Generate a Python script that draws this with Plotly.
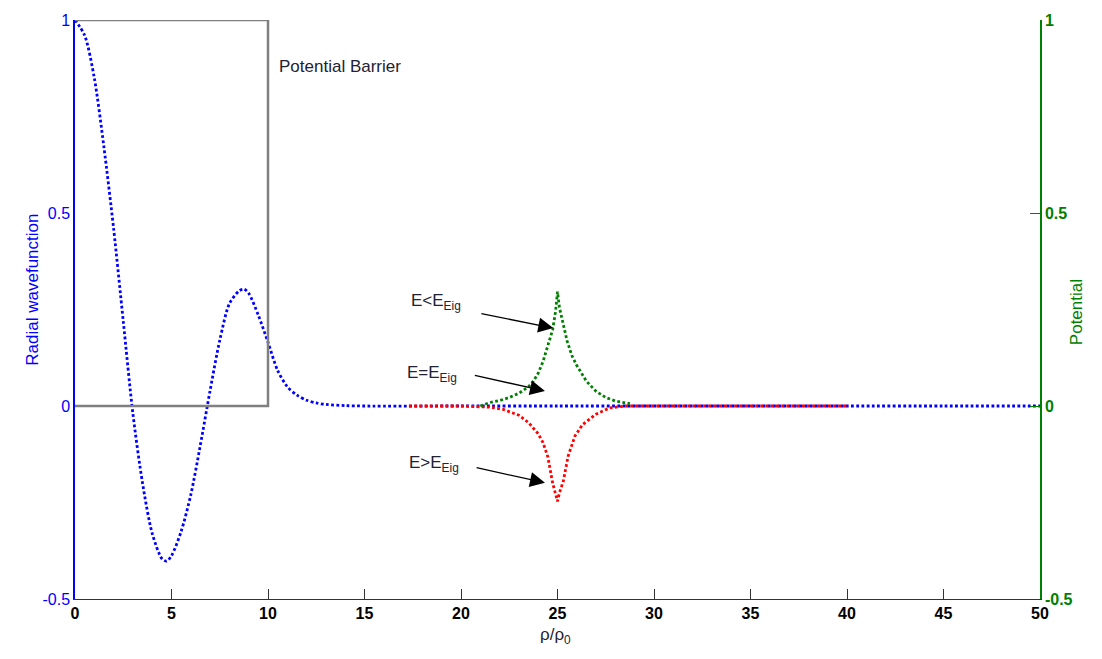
import plotly.graph_objects as go

# ---- data ----
wave_x = [0, 0.5, 1, 1.5, 2, 2.5, 3, 3.5, 4, 4.5, 4.75, 5, 5.5, 6, 6.5, 7, 7.5, 8,
          8.5, 8.75, 9, 9.5, 10, 10.5, 11, 11.5, 12, 12.5, 13, 14, 15, 20, 25, 30,
          35, 40, 45, 50]
wave_y = [1.0, 0.96, 0.85, 0.67, 0.46, 0.22, -0.02, -0.20, -0.33, -0.395, -0.402,
          -0.388, -0.325, -0.23, -0.10, 0.04, 0.17, 0.265, 0.298, 0.303, 0.292,
          0.235, 0.165, 0.092, 0.05, 0.028, 0.015, 0.008, 0.004, 0.001, 0, 0, 0, 0,
          0, 0, 0, 0]

below_x = [21.0, 21.5, 22.0, 22.5, 23.0, 23.5, 23.75, 24.0, 24.25, 24.5, 24.75, 24.9,
           25.0, 25.1, 25.25, 25.5, 25.75, 26.0, 26.5, 27.0, 27.5, 28.0, 28.75]
below_y = [0.0, 0.009, 0.014, 0.022, 0.033, 0.05, 0.064, 0.085, 0.115, 0.155, 0.198,
           0.245, 0.296, 0.255, 0.22, 0.168, 0.13, 0.105, 0.064, 0.038, 0.022, 0.013,
           0.006]

above_x = [17.3, 20, 21.5, 22.2, 23.0, 23.5, 24.0, 24.25, 24.5, 24.75, 24.9, 25.0,
           25.1, 25.3, 25.55, 25.9, 26.3, 27.0, 27.7, 28.5, 32, 36, 40]
above_y = [0, 0, -0.003, -0.009, -0.024, -0.043, -0.072, -0.095, -0.132, -0.2, -0.228,
           -0.247, -0.225, -0.195, -0.13, -0.078, -0.048, -0.021, -0.005, 0, 0, 0, 0]

barrier_x = [0, 10, 10, 0]
barrier_y = [0, 0, 1, 1]

x_ticks = [0, 5, 10, 15, 20, 25, 30, 35, 40, 45, 50]
y_ticks = [-0.5, 0, 0.5, 1]
y_ticktext = ["-0.5", "0", "0.5", "1"]

FONT = "Liberation Sans, Arial, sans-serif"
BLUE = "#0000ff"
GREEN = "#008000"
RED = "#ff0000"
DOT = "2.8px,2.4px"
LW = 2.8

fig = go.Figure()
fig.add_trace(go.Scatter(x=barrier_x, y=barrier_y, mode="lines", yaxis="y2",
                         line=dict(color="#808080", width=2.5), hoverinfo="skip"))
fig.add_trace(go.Scatter(x=above_x, y=above_y, mode="lines", yaxis="y2",
                         line=dict(color=RED, width=LW, dash=DOT)))
fig.add_trace(go.Scatter(x=below_x, y=below_y, mode="lines", yaxis="y2",
                         line=dict(color=GREEN, width=LW, dash=DOT)))
fig.add_trace(go.Scatter(x=wave_x, y=wave_y, mode="lines",
                         line=dict(color=BLUE, width=LW, dash=DOT, shape="spline",
                                   smoothing=0.8)))

fig.update_layout(
    width=1102, height=659,
    margin=dict(l=75, r=62, t=17, b=60),
    paper_bgcolor="white", plot_bgcolor="white",
    showlegend=False,
    font=dict(family=FONT, size=16, color="black"),
    xaxis=dict(range=[0, 50], tickvals=x_ticks, ticks="inside", ticklen=10,
               tickcolor="#333333", tickwidth=1, showline=True, linecolor="#333333",
               linewidth=1, showgrid=False, zeroline=False,
               tickfont=dict(family=FONT, size=16, color="black", weight="bold")),
    xaxis2=dict(range=[0, 50], overlaying="x", side="top", anchor="y",
                tickvals=x_ticks, ticks="inside", ticklen=10, tickcolor="#333333",
                showticklabels=False, showline=True, linecolor="#a8a8a8",
                showgrid=False, zeroline=False),
    yaxis=dict(range=[-0.5, 1], tickvals=y_ticks, ticktext=y_ticktext, ticks="",
               showline=True, linecolor=BLUE, linewidth=1.5, showgrid=False,
               zeroline=False, tickfont=dict(family=FONT, size=16, color=BLUE)),
    yaxis2=dict(range=[-0.5, 1], tickvals=y_ticks, ticktext=y_ticktext,
                overlaying="y", side="right", anchor="x", ticks="inside", ticklen=10,
                tickcolor=GREEN, showline=True, linecolor=GREEN, linewidth=1.5,
                showgrid=False, zeroline=False,
                tickfont=dict(family=FONT, size=16, color=GREEN, weight="bold")),
)

ann = []
# axis titles
ann.append(dict(text="Radial wavefunction", xref="paper", yref="paper", x=-0.056,
                y=0.535, textangle=-90, showarrow=False,
                font=dict(family=FONT, size=17, color=BLUE)))
ann.append(dict(text="Potential", xref="paper", yref="paper", x=1.05, y=0.495,
                textangle=-90, showarrow=False,
                font=dict(family=FONT, size=17, color=GREEN)))
ann.append(dict(text="\u03c1/\u03c1<sub>0</sub>", xref="paper", yref="paper",
                x=0.498, y=-0.086, showarrow=False,
                font=dict(family=FONT, size=17, color="#222233")))
# labels
ann.append(dict(text="Potential Barrier", x=10.45, y=0.88, xanchor="left",
                showarrow=False, font=dict(family=FONT, size=17, color="#222233")))
ann.append(dict(text="E&lt;E<sub>Eig</sub>", x=17.3, y=0.27, xanchor="left",
                showarrow=False, font=dict(family=FONT, size=17, color="#222233")))
ann.append(dict(text="E=E<sub>Eig</sub>", x=17.12, y=0.084, xanchor="left",
                showarrow=False, font=dict(family=FONT, size=17, color="#222233")))
ann.append(dict(text="E&gt;E<sub>Eig</sub>", x=17.2, y=-0.149, xanchor="left",
                showarrow=False, font=dict(family=FONT, size=17, color="#222233")))
# arrows
for (tx, ty, sx, sy) in [(24.78, 0.202, 20.98, 0.24),
                         (24.35, 0.039, 20.64, 0.08),
                         (24.35, -0.199, 20.73, -0.159)]:
    ann.append(dict(text="", x=tx, y=ty, ax=sx, ay=sy, xref="x", yref="y",
                    axref="x", ayref="y", showarrow=True, arrowhead=2,
                    arrowsize=2.3, arrowwidth=1.3, arrowcolor="black", standoff=0))
fig.update_layout(annotations=ann)

fig.write_html("out.html")
